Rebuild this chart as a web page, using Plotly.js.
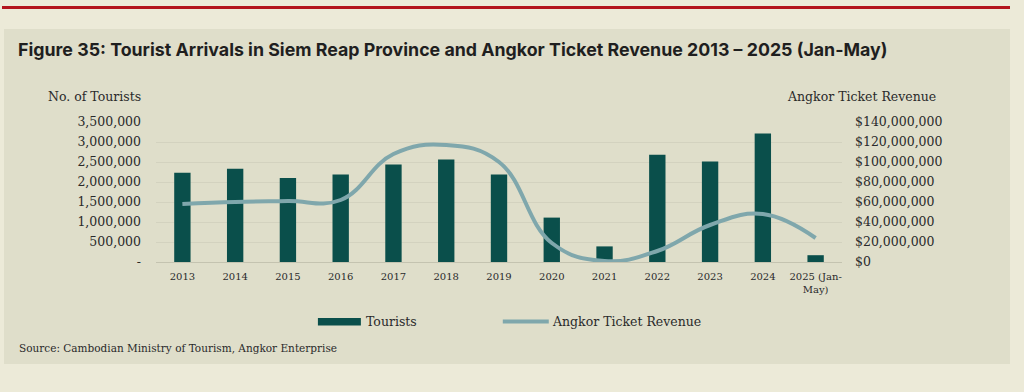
<!DOCTYPE html>
<html><head><meta charset="utf-8">
<script src="https://cdn.plot.ly/plotly-3.0.1.min.js"></script>
<style>
html,body{margin:0;padding:0;background:#ecead8;width:1024px;height:392px;overflow:hidden;}
#red{position:absolute;left:2px;top:6px;width:1008px;height:3px;background:#b3141c;}
#panel{position:absolute;left:4px;top:29px;width:1006px;height:335px;background:#dfdeca;}
#chart{position:absolute;left:0;top:0;width:1024px;height:392px;}
</style></head>
<body>
<div id="red"></div><div id="panel"></div><div id="chart"></div>
<script>
const years = ['2013','2014','2015','2016','2017','2018','2019','2020','2021','2022','2023','2024','2025 (Jan-<br>May)'];
const tourists = [2230000, 2330000, 2100000, 2190000, 2440000, 2560000, 2190000, 1110000, 390000, 2680000, 2510000, 3210000, 170000];
const revenue = [58000000, 60000000, 61000000, 62000000, 108000000, 117000000, 100000000, 19000000, 1000000, 11000000, 37000000, 48000000, 24000000];
const leftTickVals = [0,500000,1000000,1500000,2000000,2500000,3000000,3500000];
const leftTickText = ['-','500,000','1,000,000','1,500,000','2,000,000','2,500,000','3,000,000','3,500,000'];
const rightTickVals = [0,20000000,40000000,60000000,80000000,100000000,120000000,140000000];

const W=1024,H=392,L=156,R=842.4,T=121.7,B=262.3;
const px=x=>(x-L)/(R-L), py=y=>(B-y)/(B-T);
const barColor='#0a4f4b', lineColor='#7fa7ac', txt='#2a2a2a';
const serif='DejaVu Serif, serif';

const data=[
 {type:'bar',x:years,y:tourists,name:'Tourists',marker:{color:barColor},yaxis:'y',hoverinfo:'skip'},
 {type:'scatter',mode:'lines',x:years,y:revenue,name:'Angkor Ticket Revenue',yaxis:'y2',
  line:{color:lineColor,width:4,shape:'spline',smoothing:1.2},hoverinfo:'skip'}
];
const layout={
 width:W,height:H,paper_bgcolor:'rgba(0,0,0,0)',plot_bgcolor:'rgba(0,0,0,0)',
 margin:{l:L,r:W-R,t:T,b:H-B,pad:0},showlegend:false,bargap:0.69,
 title:{text:'<b>Figure 35: Tourist Arrivals in Siem Reap Province and Angkor Ticket Revenue 2013 – 2025 (Jan-May)</b>',
  xref:'container',yref:'container',x:18/W,xanchor:'left',y:1-49.5/H,yanchor:'middle',
  font:{family:'Inter, sans-serif',size:17.8,color:'#1f1f1f'}},
 xaxis:{type:'category',showgrid:false,zeroline:false,showline:false,ticks:'',
  tickfont:{family:serif,size:10,color:txt},ticklabelstandoff:7},
 yaxis:{range:[0,3500000],tickvals:leftTickVals,ticktext:leftTickText,showgrid:true,gridcolor:'#d3d2bf',gridwidth:1,
  zeroline:true,zerolinecolor:'#c4c3b0',zerolinewidth:1,showline:false,ticks:'',
  tickfont:{family:serif,size:12.5,color:txt},ticklabelstandoff:14},
 yaxis2:{range:[0,140000000],tickvals:rightTickVals,tickformat:'$,',overlaying:'y',side:'right',showgrid:false,zeroline:false,
  showline:false,ticks:'',tickfont:{family:serif,size:12.5,color:txt},ticklabelstandoff:12},
 shapes:[
  {type:'rect',xref:'paper',yref:'paper',x0:px(318),x1:px(361),y0:py(326),y1:py(318.5),fillcolor:barColor,line:{width:0}},
  {type:'line',xref:'paper',yref:'paper',x0:px(503),x1:px(549),y0:py(322),y1:py(322),line:{color:lineColor,width:4}}
 ],
 annotations:[
  {text:'No. of Tourists',xref:'paper',yref:'paper',x:px(143),y:py(96),xanchor:'right',yanchor:'middle',showarrow:false,font:{family:serif,size:12.5,color:txt}},
  {text:'Angkor Ticket Revenue',xref:'paper',yref:'paper',x:px(938),y:py(96),xanchor:'right',yanchor:'middle',showarrow:false,font:{family:serif,size:12.5,color:txt}},
  {text:'Tourists',xref:'paper',yref:'paper',x:px(364),y:py(322),xanchor:'left',yanchor:'middle',showarrow:false,font:{family:serif,size:12.5,color:txt}},
  {text:'Angkor Ticket Revenue',xref:'paper',yref:'paper',x:px(550),y:py(322),xanchor:'left',yanchor:'middle',showarrow:false,font:{family:serif,size:12.5,color:txt}},
  {text:'Source: Cambodian Ministry of Tourism, Angkor Enterprise',xref:'paper',yref:'paper',x:px(17),y:py(349),xanchor:'left',yanchor:'middle',showarrow:false,font:{family:serif,size:10.5,color:txt}}
 ]
};
Plotly.newPlot('chart',data,layout,{staticPlot:true,displayModeBar:false});
</script>
</body></html>
